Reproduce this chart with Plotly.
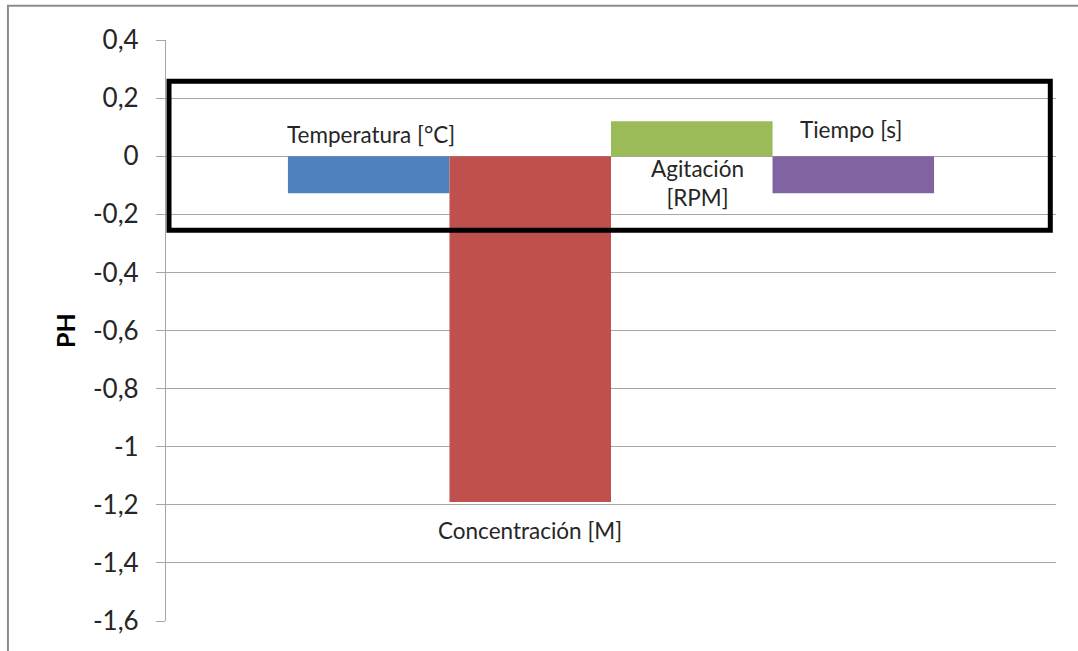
import plotly.graph_objects as go

# Effect of each factor on PH
factors = ["Temperatura [°C]", "Concentración [M]", "Agitación<br>[RPM]", "Tiempo [s]"]
effects = [-0.1275, -1.19, 0.12, -0.1275]
colors = ["#4F81BD", "#C0504D", "#9BBB59", "#8064A2"]

# label anchor heights (data units) for the category-name labels
label_y = [0.074, -1.2875, -0.092, 0.091]
label_dx = [0.003, 0.0, 0.006, -0.003]

y_ticks = [0.4, 0.2, 0, -0.2, -0.4, -0.6, -0.8, -1, -1.2, -1.4, -1.6]
y_tick_text = ["0,4", "0,2", "0", "-0,2", "-0,4", "-0,6", "-0,8", "-1", "-1,2", "-1,4", "-1,6"]

FONT = "Lato, Calibri, sans-serif"
BARGAP = 0.274

fig = go.Figure()
for name, val, col in zip(factors, effects, colors):
    fig.add_trace(go.Bar(
        x=["PH"], y=[val], name=name, marker=dict(color=col, line=dict(width=0)),
        hoverinfo="y",
    ))

# category-name labels placed next to each bar
n = len(factors)
group_w = 1 - BARGAP
bar_w = group_w / n
for i, (name, ly, dx) in enumerate(zip(factors, label_y, label_dx)):
    cx = -group_w / 2 + (i + 0.5) * bar_w + dx
    fig.add_annotation(
        x=cx, y=ly, xref="x", yref="y", text=name, showarrow=False,
        font=dict(family=FONT, size=22.5, color="#262626"),
        xanchor="center", yanchor="middle", align="center",
    )

# highlight frame around the small effects
fig.add_shape(
    type="rect", xref="x domain", yref="y",
    x0=0.0034, x1=0.9936, y0=-0.255, y1=0.258,
    line=dict(color="black", width=5), fillcolor="rgba(0,0,0,0)", layer="above",
)

# outer chart-area border
fig.add_shape(
    type="rect", xref="paper", yref="paper",
    x0=-0.1776, x1=1.05, y0=-0.08, y1=1.059,
    line=dict(color="#8C8C8C", width=2), fillcolor="rgba(0,0,0,0)", layer="below",
)

fig.update_layout(
    width=1078, height=651,
    margin=dict(l=166, r=22, t=40, b=30, pad=0),
    paper_bgcolor="white", plot_bgcolor="white",
    barmode="group", bargap=BARGAP, bargroupgap=0,
    showlegend=False,
    font=dict(family=FONT, color="#262626"),
)

fig.update_xaxes(
    showticklabels=False, showgrid=False, zeroline=False,
    showline=False, ticks="", range=[-0.5, 0.5],
)
fig.update_yaxes(
    range=[-1.6, 0.4], tickmode="array", tickvals=y_ticks, ticktext=y_tick_text,
    ticklabelstandoff=12,
    tickfont=dict(family=FONT, size=26, color="#262626"),
    showgrid=True, gridcolor="#A6A6A6", gridwidth=1.3,
    zeroline=True, zerolinecolor="#A6A6A6", zerolinewidth=1.3,
    showline=True, linecolor="#A6A6A6", linewidth=1.3,
    ticks="outside", ticklen=9, tickcolor="#A6A6A6", tickwidth=1.3,
    title=dict(text="<b>PH</b>", font=dict(family=FONT, size=25, color="black"), standoff=10),
)

fig.write_html("out.html")
